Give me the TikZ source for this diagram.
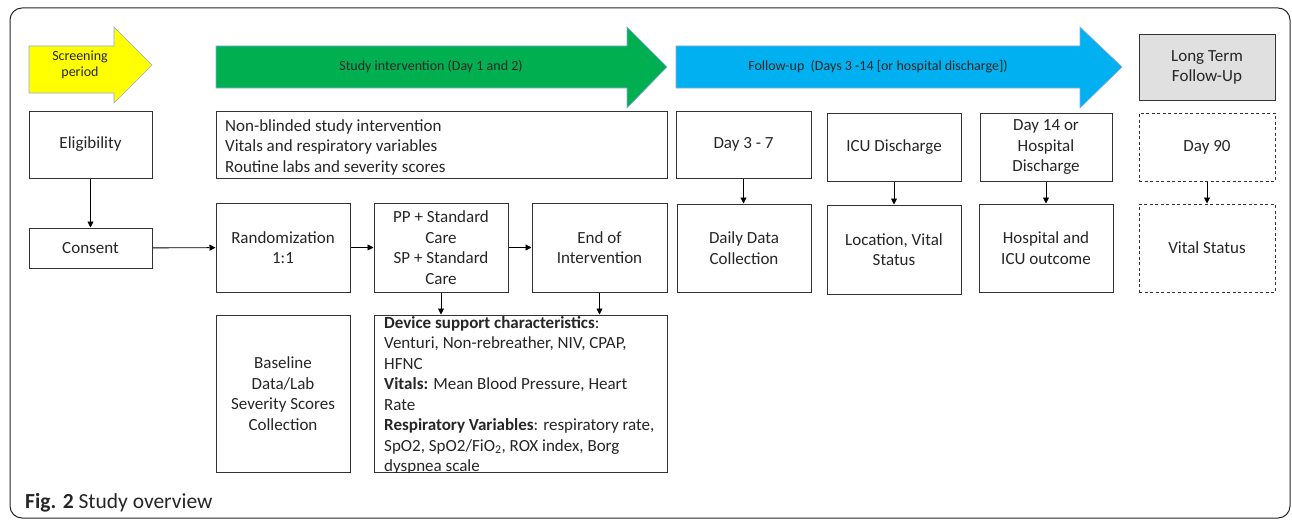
\documentclass[tikz,border=0pt]{standalone}
\usepackage{fontspec}
\setmainfont{Carlito}
\usetikzlibrary{arrows.meta}
\definecolor{yel}{HTML}{FFFF00}
\definecolor{grn}{HTML}{00B050}
\definecolor{blu}{HTML}{00B0F0}
\definecolor{gry}{HTML}{E0E0E0}
\definecolor{edgeblue}{HTML}{8FAADC}
\definecolor{txt}{HTML}{262626}
\tikzset{
  box/.style={draw=black!80, line width=1pt, fill=white, align=center, inner sep=2pt,
    font=\fontsize{17}{20.5}\selectfont, text=txt},
  dashbox/.style={box, dash pattern=on 3pt off 2.5pt},
  conn/.style={draw=black, line width=0.9pt, -{Triangle[length=6pt,width=6pt]}},
  bigarrow/.style={draw=edgeblue, line width=0.6pt},
  arrowlabel/.style={font=\fontsize{14}{16.5}\selectfont, text=txt, align=center, inner sep=0pt}
}
\begin{document}
\begin{tikzpicture}[x=1pt,y=-1pt]
\useasboundingbox (0,0) rectangle (1292,519);
% outer frame
\draw[line width=1pt, rounded corners=12pt, black!85] (10,8) rectangle (1290,518);

% big block arrows
\draw[bigarrow, fill=yel] (29,46) -- (114,46) -- (114,27) -- (152,65) -- (114,103) -- (114,93) -- (29,93) -- cycle;
\node[arrowlabel] (lscreen) at (80,65) {Screening\\period};
\draw[bigarrow, fill=grn] (216,46) -- (627,46) -- (627,27) -- (667,67) -- (627,108) -- (627,88) -- (216,88) -- cycle;
\node[arrowlabel] (lstudy) at (431,67) {Study intervention (Day 1 and 2)};
\draw[bigarrow, fill=blu] (676,46) -- (1080,46) -- (1080,27) -- (1122,67) -- (1080,108) -- (1080,88) -- (676,88) -- cycle;
\node[arrowlabel] (lfollow) at (878,67) {Follow-up\ \ (Days 3 -14 [or hospital discharge])};
\node[box, fill=gry, minimum width=136, minimum height=65] (lt) at (1207,67.5) {Long Term\\Follow-Up};

% row 1
\node[box, minimum width=123, minimum height=67] (elig) at (90.5,144.5) {Eligibility};
\node[box, minimum width=451, minimum height=67] (nonb) at (441.5,144.5) {};
\node[anchor=west, align=left, inner sep=0pt, font=\fontsize{17}{20.5}\selectfont, text=txt] (nonbtext) at (225,147)
  {Non-blinded study intervention\\Vitals and respiratory variables\\Routine labs and severity scores};
\node[box, minimum width=135, minimum height=67] (d37) at (743.5,144.5) {Day 3 - 7};
\node[box, minimum width=134, minimum height=68] (icu) at (894,147) {ICU Discharge};
\node[box, minimum width=132, minimum height=68] (d14) at (1046,147) {Day 14 or\\Hospital\\Discharge};
\node[dashbox, minimum width=136, minimum height=68] (d90) at (1207,147) {Day 90};

% row 2
\node[box, minimum width=123, minimum height=40] (cons) at (90.5,248) {Consent};
\node[box, minimum width=134, minimum height=89] (rand) at (283,247.5) {Randomization\\1:1};
\node[box, minimum width=134, minimum height=89] (pp) at (441,247.5) {PP + Standard\\Care\\SP + Standard\\Care};
\node[box, minimum width=135, minimum height=89] (eoi) at (599.5,247.5) {End of\\Intervention};
\node[box, minimum width=134, minimum height=88] (daily) at (744,248) {Daily Data\\Collection};
\node[box, minimum width=134, minimum height=89] (loc) at (894,249.5) {Location, Vital\\Status};
\node[box, minimum width=134, minimum height=88] (hosp) at (1046,248) {Hospital and\\ICU outcome};
\node[dashbox, minimum width=136, minimum height=88] (vital) at (1207,248) {Vital Status};

% row 3
\node[box, minimum width=134, minimum height=157] (base) at (283,393.5) {Baseline\\Data/Lab\\Severity Scores\\Collection};
\node[box, minimum width=293, minimum height=157] (dev) at (520.5,393.5) {};
\node[anchor=north west, align=left, inner sep=0pt, font=\fontsize{17}{20.5}\selectfont, text=txt] (devtext) at (384,316)
  {\textbf{Device support characteristics}:\\
   Venturi,\ Non-rebreather,\ NIV, CPAP,\\
   HFNC\\
   \textbf{Vitals:} Mean Blood\ Pressure, Heart\\
   Rate\\
   \textbf{Respiratory Variables}: respiratory rate,\\
   SpO2, SpO2/FiO\textsubscript{2}, ROX index, Borg\\
   dyspnea scale};
\fill[white] (376,473) rectangle (666,482);

% connectors
\draw[conn] (elig) -- (cons);
\draw[conn] (cons) -- (rand);
\draw[conn] (rand) -- (pp);
\draw[conn] (pp) -- (eoi);
\draw[conn] (pp.south) -- (pp.south |- dev.north);
\draw[conn] (eoi.south) -- (eoi.south |- dev.north);
\draw[conn] (d37) -- (d37 |- daily.north);
\draw[conn] (icu) -- (loc);
\draw[conn] (d14) -- (hosp);
\draw[conn] (d90) -- (vital);

% caption
\node[anchor=base west, inner sep=0pt, font=\fontsize{21.5}{24}\selectfont, text=txt] (cap) at (25,508) {\textbf{Fig. 2} Study overview};
\end{tikzpicture}
\end{document}
